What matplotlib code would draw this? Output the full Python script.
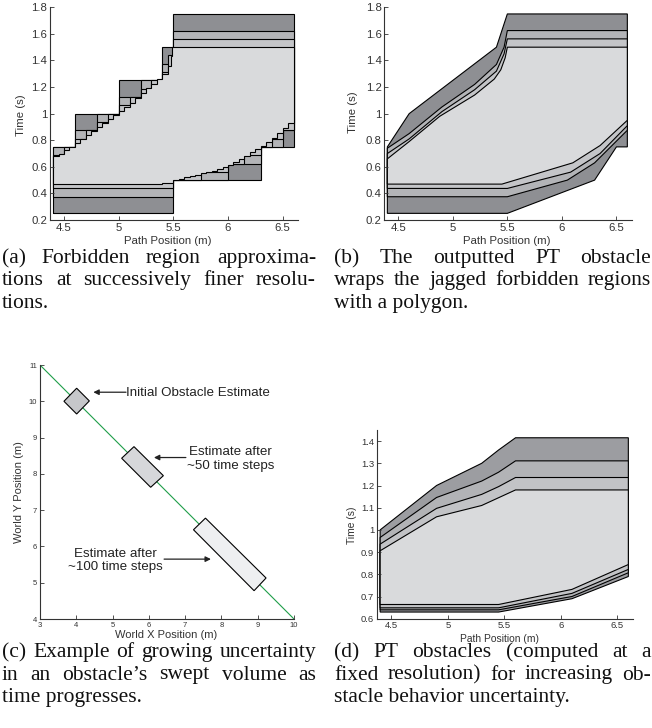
import matplotlib
matplotlib.use('Agg')
import matplotlib.pyplot as plt

plt.rcParams['font.family'] = ['Liberation Sans', 'DejaVu Sans']

W, H = 652, 728
DARK = '#8e8f93'
MED = '#b3b4b7'
LMED = '#c4c5c8'
LIGHT = '#d9dadc'
AXC = '#333333'

############################################################################
# (a) forbidden region approximations, one staircase per resolution level
a0_edges = [4.4, 4.6, 5.0, 5.4, 5.5, 6.3, 6.6]
a0_hi = [0.75, 1.0, 1.25, 1.5, 1.75, 1.75]
a0_lo = [0.25, 0.25, 0.25, 0.25, 0.5, 0.75]

a1_edges = [4.4, 4.6, 4.8, 5.0, 5.2, 5.4, 5.5, 6.0, 6.3, 6.5, 6.6]
a1_hi = [0.75, 0.875, 1.0, 1.125, 1.25, 1.375, 1.625, 1.625, 1.625, 1.625]
a1_lo = [0.375, 0.375, 0.375, 0.375, 0.375, 0.375, 0.5, 0.625, 0.75, 0.875]

a2_edges = [4.4, 4.5, 4.6, 4.7, 4.8, 4.9, 5.0, 5.1, 5.2, 5.3, 5.4, 5.45,
            5.5, 5.75, 6.0, 6.15, 6.3, 6.4, 6.5, 6.6]
a2_hi = [0.6875, 0.75, 0.8125, 0.875, 0.9375, 1.0, 1.0625, 1.125, 1.1875,
         1.25, 1.3125, 1.4375, 1.5625, 1.5625, 1.5625, 1.5625, 1.5625,
         1.5625, 1.5625]
a2_lo = [0.4375]*12 + [0.5, 0.5625, 0.625, 0.6875, 0.75, 0.8125, 0.875]

a3_edges = [4.40, 4.45, 4.50, 4.55, 4.60, 4.65, 4.70, 4.75, 4.80, 4.85,
            4.90, 4.95, 5.00, 5.05, 5.10, 5.15, 5.20, 5.25, 5.30, 5.35,
            5.40, 5.45, 5.475, 5.49, 5.50, 5.55, 5.60, 5.65, 5.70, 5.75,
            5.80, 5.85, 5.90, 5.95, 6.00, 6.05, 6.10, 6.15, 6.20, 6.25,
            6.30, 6.35, 6.40, 6.45, 6.50, 6.55, 6.60]
a3_hi = [0.68, 0.70, 0.725, 0.75, 0.78, 0.81, 0.84, 0.87, 0.90, 0.93,
         0.96, 0.99, 1.02, 1.05, 1.08, 1.12, 1.155, 1.19, 1.225, 1.26,
         1.30, 1.36, 1.43, 1.5] + [1.5]*22
a3_lo = [0.47]*20 + [0.48]*4 + [0.50, 0.51, 0.52, 0.53, 0.54, 0.55, 0.56,
                                0.57, 0.585, 0.60, 0.615, 0.635, 0.66,
                                0.685, 0.71, 0.735, 0.76, 0.79, 0.82,
                                0.855, 0.89, 0.93]

# (b) polygons wrapping each level
b0_x = [4.4, 5.5, 6.3, 6.5, 6.6, 6.6, 5.5, 5.4, 4.6, 4.4]
b0_t = [0.25, 0.25, 0.5, 0.75, 0.75, 1.75, 1.75, 1.5, 1.0, 0.75]
b1_x = [4.4, 5.5, 6.05, 6.3, 6.6, 6.6, 5.5, 5.47, 5.4, 5.2, 4.9, 4.6, 4.4]
b1_t = [0.375, 0.375, 0.5, 0.63, 0.875, 1.625, 1.625, 1.5, 1.37, 1.22,
        1.05, 0.85, 0.74]
b2_x = [4.4, 5.5, 6.08, 6.35, 6.6, 6.6, 5.5, 5.47, 5.4, 5.2, 4.9, 4.6, 4.4]
b2_t = [0.4375, 0.4375, 0.56, 0.7, 0.91, 1.5625, 1.5625, 1.45, 1.32, 1.18,
        1.015, 0.81, 0.70]
b3_x = [4.4, 5.45, 6.1, 6.35, 6.6, 6.6, 5.5, 5.48, 5.44, 5.38, 5.2, 4.88,
        4.6, 4.4]
b3_t = [0.47, 0.47, 0.63, 0.76, 0.95, 1.5, 1.5, 1.42, 1.33, 1.26, 1.14,
        0.98, 0.79, 0.66]

# (c) obstacle estimates along the path
c_path_x = [3, 10]
c_path_y = [11, 4]
c_rect1_x = [4.01, 4.36, 4.01, 3.66]
c_rect1_y = [10.36, 10.01, 9.65, 10.0]
c_rect2_x = [5.59, 6.40, 6.05, 5.25]
c_rect2_y = [8.75, 7.95, 7.63, 8.43]
c_rect3_x = [7.56, 9.23, 8.90, 7.23]
c_rect3_y = [6.78, 5.13, 4.78, 6.46]

# (d) PT obstacles for increasing uncertainty (outer to inner)
d_top_x = [4.4, 4.9, 5.3, 5.45, 5.6, 6.6]
d_bot_x = [4.4, 5.45, 6.1, 6.6]
d0_top = [1.0, 1.2, 1.30, 1.36, 1.415, 1.415]
d0_bot = [0.63, 0.63, 0.69, 0.79]
d1_top = [0.966, 1.146, 1.22, 1.26, 1.311, 1.311]
d1_bot = [0.64, 0.64, 0.70, 0.807]
d2_top = [0.936, 1.097, 1.16, 1.195, 1.236, 1.236]
d2_bot = [0.649, 0.649, 0.714, 0.822]
d3_top = [0.906, 1.059, 1.11, 1.145, 1.18, 1.18]
d3_bot = [0.664, 0.664, 0.732, 0.844]

path_ticks = [4.5, 5, 5.5, 6, 6.5]
path_labels = ['4.5', '5', '5.5', '6', '6.5']
time_ticks_ab = [0.2, 0.4, 0.6, 0.8, 1.0, 1.2, 1.4, 1.6, 1.8]
time_labels_ab = ['0.2', '0.4', '0.6', '0.8', '1', '1.2', '1.4', '1.6', '1.8']
time_ticks_d = [0.6, 0.7, 0.8, 0.9, 1.0, 1.1, 1.2, 1.3, 1.4]
time_labels_d = ['0.6', '0.7', '0.8', '0.9', '1', '1.1', '1.2', '1.3', '1.4']

captions = {
    'a': [('(a) Forbidden region approxima-', True),
          ('tions at successively finer resolu-', True),
          ('tions.', False)],
    'b': [('(b) The outputted PT obstacle', True),
          ('wraps the jagged forbidden regions', True),
          ('with a polygon.', False)],
    'c': [('(c) Example of growing uncertainty', True),
          ('in an obstacle\u2019s swept volume as', True),
          ('time progresses.', False)],
    'd': [('(d) PT obstacles (computed at a', True),
          ('fixed resolution) for increasing ob-', True),
          ('stacle behavior uncertainty.', False)],
}

fig = plt.figure(figsize=(W/100, H/100), dpi=100)


############################################################################
# axes placed by pixel box (left, top, right, bottom) like the reference
def pxAxes(box):
    l, t, r, b = box
    return fig.add_axes((l/W, 1 - b/H, (r - l)/W, (b - t)/H))


def matlabStyle(ax, box, xlim, ylim, xt, xtl, yt, ytl, fs):
    ax.set_xlim(xlim)
    ax.set_ylim(ylim)
    ax.set_xticks(xt)
    ax.set_xticklabels(xtl)
    ax.set_yticks(yt)
    ax.set_yticklabels(ytl)
    for s in ['top', 'right']:
        ax.spines[s].set_visible(False)
    for s in ['left', 'bottom']:
        ax.spines[s].set_color(AXC)
        ax.spines[s].set_linewidth(0.8)
    ax.tick_params(direction='in', length=3, width=0.6, colors=AXC,
                   labelsize=fs, pad=2)
    ax.set_facecolor('none')


def placeLabels(ax, box, xl, xc, yl, yc, fs):
    l, t, r, b = box
    ax.set_xlabel(xl, fontsize=fs, color=AXC, va='center', ha='center')
    ax.xaxis.set_label_coords((xc[0] - l)/(r - l), (b - xc[1])/(b - t))
    ax.set_ylabel(yl, fontsize=fs, color=AXC, va='center', ha='center')
    ax.yaxis.set_label_coords((yc[0] - l)/(r - l), (b - yc[1])/(b - t))


############################################################################
# (a)
boxA = (50, 7.3, 298, 220)
axA = pxAxes(boxA)
for e, hi, lo, c in [(a0_edges, a0_hi, a0_lo, DARK),
                     (a1_edges, a1_hi, a1_lo, MED),
                     (a2_edges, a2_hi, a2_lo, LMED),
                     (a3_edges, a3_hi, a3_lo, LIGHT)]:
    axA.stairs(hi, e, baseline=lo, fill=True, facecolor=c,
               edgecolor='k', linewidth=0.8)
matlabStyle(axA, boxA, (4.372, 6.64), (0.2, 1.8), path_ticks, path_labels,
            time_ticks_ab, time_labels_ab, 8.2)
placeLabels(axA, boxA, 'Path Position (m)', (168, 240.5),
            'Time (s)', (20.7, 115.5), 8.2)

# (b)
boxB = (384.3, 7.3, 631.7, 220)
axB = pxAxes(boxB)
for xs, ts, c in [(b0_x, b0_t, DARK), (b1_x, b1_t, MED),
                  (b2_x, b2_t, LMED), (b3_x, b3_t, LIGHT)]:
    axB.fill(xs, ts, facecolor=c, edgecolor='k', linewidth=0.8)
matlabStyle(axB, boxB, (4.372, 6.64), (0.2, 1.8), path_ticks, path_labels,
            time_ticks_ab, time_labels_ab, 8.2)
placeLabels(axB, boxB, 'Path Position (m)', (506.7, 240.5),
            'Time (s)', (353.3, 112.5), 8.2)

# (c)
boxC = (40, 365, 294, 619)
axC = pxAxes(boxC)
axC.plot(c_path_x, c_path_y, color='#1f9e4a', linewidth=0.8)
for xs, ys, c in [(c_rect1_x, c_rect1_y, '#c6c7ca'),
                  (c_rect2_x, c_rect2_y, '#d6d7da'),
                  (c_rect3_x, c_rect3_y, '#eeeff1')]:
    axC.fill(xs, ys, facecolor=c, edgecolor='k', linewidth=0.8, zorder=3)
arrow = dict(arrowstyle='-|>', color='#222222', lw=0.9, mutation_scale=8,
             shrinkA=0, shrinkB=0)
axC.annotate('', xy=(4.47, 10.25), xytext=(5.37, 10.25), arrowprops=arrow)
axC.text(5.38, 10.22, 'Initial Obstacle Estimate', fontsize=9.6,
         color='#222222', ha='left', va='center')
axC.annotate('', xy=(6.14, 8.45), xytext=(7.02, 8.45), arrowprops=arrow)
axC.text(8.25, 8.41, 'Estimate after\n~50 time steps', fontsize=9.6,
         color='#222222', ha='center', va='center', linespacing=1.15)
axC.annotate('', xy=(7.71, 5.65), xytext=(6.42, 5.65), arrowprops=arrow)
axC.text(5.07, 5.61, 'Estimate after\n~100 time steps', fontsize=9.6,
         color='#222222', ha='center', va='center', linespacing=1.15)
matlabStyle(axC, boxC, (3, 10), (4, 11), list(range(3, 11)),
            [str(v) for v in range(3, 11)], list(range(4, 12)),
            [str(v) for v in range(4, 12)], 5.5)
placeLabels(axC, boxC, 'World X Position (m)', (166, 635),
            'World Y Position (m)', (19, 491.7), 8.0)

# (d)
boxD = (377, 430, 633.3, 618.7)
axD = pxAxes(boxD)
for top, bot, c in [(d0_top, d0_bot, '#9c9da1'), (d1_top, d1_bot, '#b2b3b6'),
                    (d2_top, d2_bot, '#c2c3c6'), (d3_top, d3_bot, LIGHT)]:
    xs = d_bot_x + d_top_x[::-1]
    ts = bot + top[::-1]
    axD.fill(xs, ts, facecolor=c, edgecolor='k', linewidth=0.8)
matlabStyle(axD, boxD, (4.372, 6.644), (0.6, 1.45), path_ticks, path_labels,
            time_ticks_d, time_labels_d, 6.8)
placeLabels(axD, boxD, 'Path Position (m)', (500, 639),
            'Time (s)', (351.7, 525), 7.4)


############################################################################
# justified serif captions like the paper's two column layout
def caption(lines, x0, x1, y0, dy):
    r = fig.canvas.get_renderer()
    for i, (line, just) in enumerate(lines):
        yb = 1 - (y0 + i*dy)/H
        kw = dict(fontsize=15.5, family='Liberation Serif', color='#111111',
                  va='baseline', ha='left')
        if not just:
            fig.text(x0/W, yb, line, **kw)
            continue
        words = line.split(' ')
        texts = [fig.text(0, yb, w, **kw) for w in words]
        widths = [t.get_window_extent(r).width for t in texts]
        gap = (x1 - x0 - sum(widths))/(len(words) - 1)
        x = x0
        for t, w in zip(texts, widths):
            t.set_x(x/W)
            x += w + gap


caption(captions['a'], 2, 316, 263, 22.5)
caption(captions['b'], 334, 651, 263, 22.5)
caption(captions['c'], 2, 316, 657, 22.5)
caption(captions['d'], 334, 651, 657, 22.5)

fig.savefig('out.png', dpi=100)
